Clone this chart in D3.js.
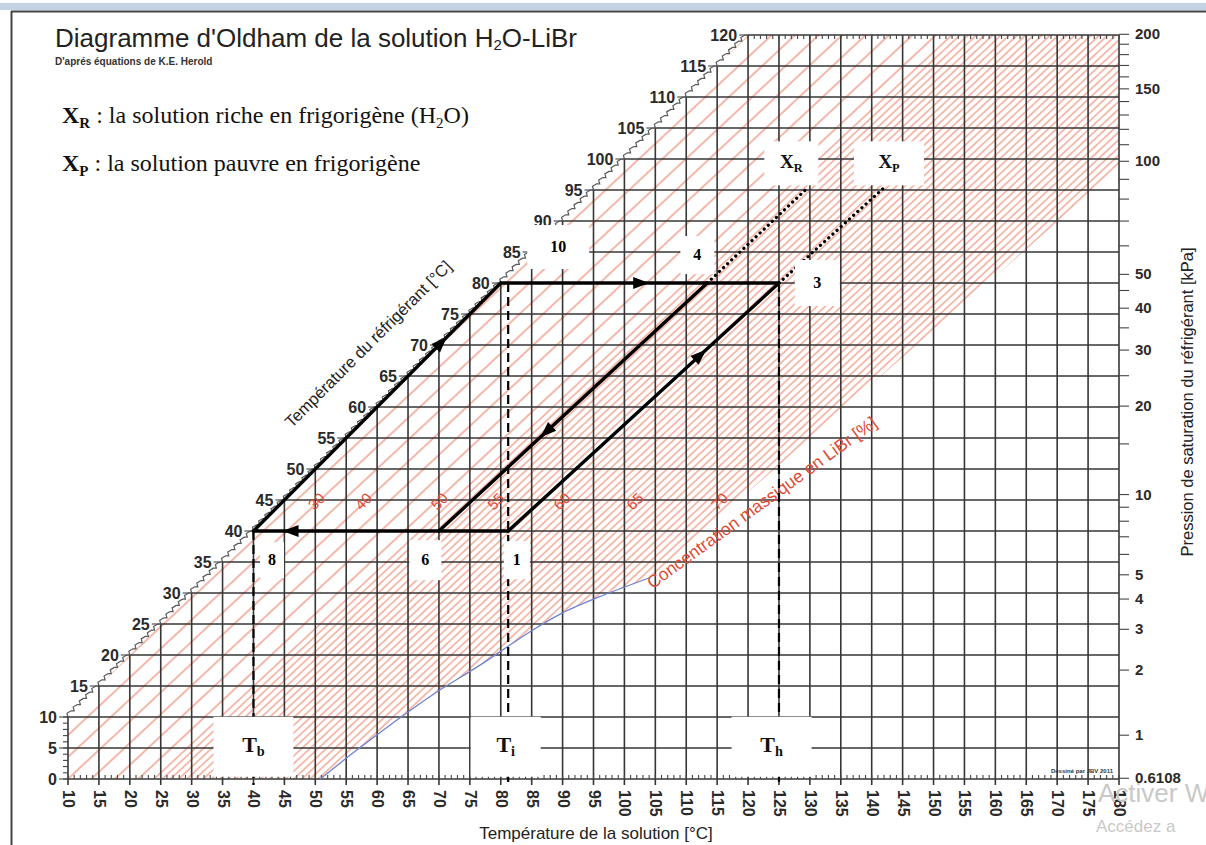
<!DOCTYPE html>
<html>
<head>
<meta charset="utf-8">
<script src="https://cdn.jsdelivr.net/npm/d3@7"></script>
<style>
body { margin: 0; background: #fff; }
svg { display: block; font-family: "Liberation Sans", Arial, sans-serif; }
</style>
</head>
<body>
<div id="chart"></div>
<script>
// chart data
var solTicks = d3.range(10, 181, 5);          // solution temperature [°C]
var refTicks = d3.range(0, 121, 5);           // refrigerant temperature [°C]
var pressMajor = [200, 150, 100, 50, 40, 30, 20, 10, 5, 4, 3, 2, 1, 0.6108];
var pressMinor = [190, 180, 170, 160, 140, 130, 120, 110, 90, 80, 70, 60, 45, 35, 25, 15, 9, 8, 7, 6];

var concLabels = ["30", "40", "50", "55", "60", "65", "70"];
var concLabelTsol = [50.8, 58.4, 70.7, 79.8, 90.5, 102.3, 116.0];
var concLabelTref = 45;

// crystallisation curve [Tsol, Tref]
var crystCurve = [[50.8, 0], [56.5, 4.5], [62.5, 9], [69, 13.6], [76.7, 18.4], [84.8, 23.8], [90, 26.8], [96.5, 29.6], [104.2, 32.5]];
// boundary between sparse and dense hatching, and the 70 % line
var conc50 = [[23.5, 0], [151.9, 120]];
var conc70 = [[104.2, 32.5], [180, 98.5]];

// cycle points [Tsol, Tref]
var cyclePoints = {
    "1": [81.2, 40],
    "3": [125, 80],
    "4": [113.4, 80],
    "6": [70, 40],
    "8": [40, 40],
    "10": [80, 80]
};
var cycleSegments = [
    {from: "8", to: "10", arrow: 0.76},
    {from: "10", to: "4", arrow: 0.68},
    {from: "4", to: "3", arrow: null},
    {from: "4", to: "6", arrow: 0.6},
    {from: "6", to: "8", arrow: 0.8},
    {from: "1", to: "6", arrow: null},
    {from: "1", to: "3", arrow: 0.71}
];
var dottedExt = [
    [[113.4, 80], [129.8, 95.5]],
    [[125, 80], [141.9, 95.3]]
];
var dashedVert = [[40, 40], [81.2, 80], [125, 80]];

// white annotation boxes: text, Tsol, Tref, box w, box h
var pointLabels = [
    {t: "10", s: 89.3, r: 85.8, w: 62, h: 44},
    {t: "4", s: 111.8, r: 84.5, w: 34, h: 38},
    {t: "3", s: 131.2, r: 80, w: 45, h: 46},
    {t: "8", s: 43.0, r: 35.3, w: 24, h: 36},
    {t: "6", s: 67.8, r: 35.3, w: 32, h: 40},
    {t: "1", s: 82.6, r: 35.3, w: 26, h: 38}
];
var subLabels = [
    {t: "X", sub: "R", s: 127.0, r: 99.3, w: 54, h: 44, size: 19},
    {t: "X", sub: "P", s: 142.8, r: 99.3, w: 70, h: 44, size: 19},
    {t: "T", sub: "b", s: 40.0, r: 5.2, w: 80, h: 60, size: 22},
    {t: "T", sub: "i", s: 80.8, r: 5.2, w: 70, h: 60, size: 22},
    {t: "T", sub: "h", s: 123.8, r: 5.2, w: 80, h: 60, size: 22}
];

var svgWidth = 1206;
var svgHeight = 845;

var svg = d3.select("#chart")
    .append("svg")
    .attr("width", svgWidth)
    .attr("height", svgHeight);

var x = d3.scaleLinear().domain([10, 180]).range([68, 1119]);
var y = d3.scaleLinear().domain([0, 120]).range([779, 35]);

// saturation temperature of water from pressure in kPa (Antoine), used for the right axis
function tsat(p) {
    return 1730.63 / (7.19621 - Math.log10(p)) - 233.426;
}
var pY = p => y(Math.max(0, tsat(p)));

// window frame
svg.append("rect").attr("x", 0).attr("y", 3).attr("width", svgWidth).attr("height", 7).attr("fill", "#c4d2e5");
svg.append("line").attr("x1", 11).attr("x2", svgWidth).attr("y1", 11.5).attr("y2", 11.5).attr("stroke", "#444").attr("stroke-width", 2);
svg.append("line").attr("x1", 11.5).attr("x2", 11.5).attr("y1", 11).attr("y2", svgHeight).attr("stroke", "#444").attr("stroke-width", 2);

// hatch patterns
var defs = svg.append("defs");
function hatch(id, spacing, width) {
    var p = defs.append("pattern")
        .attr("id", id)
        .attr("patternUnits", "userSpaceOnUse")
        .attr("width", spacing)
        .attr("height", 20)
        .attr("patternTransform", "rotate(47)");
    p.append("line")
        .attr("x1", spacing / 2).attr("x2", spacing / 2)
        .attr("y1", 0).attr("y2", 20)
        .attr("stroke", "#ec7c62")
        .attr("stroke-width", width);
}
hatch("hatchSparse", 16, 1.1);
hatch("hatchDense", 5.6, 1);

var curveLine = d3.line().x(d => x(d[0])).y(d => y(d[1])).curve(d3.curveCatmullRom);
var toPx = d => x(d[0]) + "," + y(d[1]);

var sparsePoly = [[10, 0], [10, 10], [120, 120], conc50[1], conc50[0]];
svg.append("path")
    .attr("d", "M" + sparsePoly.map(toPx).join("L") + "Z")
    .attr("fill", "url(#hatchSparse)");

var densePoly = [conc50[0], conc50[1], [180, 120], conc70[1], conc70[0]];
var crystBack = crystCurve.slice().reverse();
svg.append("path")
    .attr("d", "M" + densePoly.map(toPx).join("L") + curveLine(crystBack).replace("M", "L") + "Z")
    .attr("fill", "url(#hatchDense)");

// grid
var grid = svg.append("g").attr("stroke", "#363636").attr("stroke-width", 1.6);
grid.selectAll(".v").data(solTicks).enter().append("line")
    .attr("x1", d => x(d)).attr("x2", d => x(d))
    .attr("y1", y(0) + 6).attr("y2", d => y(Math.min(120, d)));
grid.selectAll(".h").data(refTicks).enter().append("line")
    .attr("x1", d => x(Math.max(10, d))).attr("x2", x(180))
    .attr("y1", d => y(d)).attr("y2", d => y(d));

// diagonal wavy edge (pure water), one step per degree
var stair = "M" + x(10) + "," + y(10);
for (var t = 10; t < 120; t++) {
    stair += "L" + (x(t) - 1) + "," + (y(t + 0.6)) + "L" + (x(t + 0.5)) + "," + y(t + 1) + "L" + x(t + 1) + "," + y(t + 1);
}
svg.append("path").attr("d", stair).attr("fill", "none").attr("stroke", "#5a5a5a").attr("stroke-width", 1.2);

var ticks = svg.append("g").attr("stroke", "#444").attr("stroke-width", 1.1);
// diagonal major ticks
ticks.selectAll(".dt").data(refTicks).enter().append("line")
    .attr("x1", d => x(Math.max(10, d)) - 9).attr("x2", d => x(Math.max(10, d)))
    .attr("y1", d => y(d)).attr("y2", d => y(d));
// left minor ticks 0..10
ticks.selectAll(".lt").data(d3.range(0, 11)).enter().append("line")
    .attr("x1", x(10) - 5).attr("x2", x(10))
    .attr("y1", d => y(d)).attr("y2", d => y(d));
// bottom minor ticks
ticks.selectAll(".bt").data(d3.range(10, 181)).enter().append("line")
    .attr("x1", d => x(d)).attr("x2", d => x(d))
    .attr("y1", y(0)).attr("y2", y(0) - 4);
// top minor ticks
ticks.selectAll(".tt").data(d3.range(120, 181)).enter().append("line")
    .attr("x1", d => x(d)).attr("x2", d => x(d))
    .attr("y1", y(120)).attr("y2", y(120) + 4);
// right pressure ticks
ticks.selectAll(".pt").data(pressMajor.concat(pressMinor)).enter().append("line")
    .attr("x1", x(180)).attr("x2", x(180) + 10)
    .attr("y1", d => pY(d)).attr("y2", d => pY(d));

// tick labels
var labels = svg.append("g").attr("fill", "#2a2a2a").attr("font-size", "16px");
labels.selectAll(".dl").data(refTicks).enter().append("text")
    .attr("x", d => x(Math.max(10, d)) - 11)
    .attr("y", d => y(d) + 6)
    .attr("text-anchor", "end")
    .attr("font-weight", "bold")
    .text(d => d);
labels.selectAll(".bl").data(solTicks).enter().append("text")
    .attr("transform", d => `translate(${x(d) - 5},${y(0) + 11}) rotate(90)`)
    .attr("font-weight", "bold")
    .text(d => d);
labels.selectAll(".pl").data(pressMajor).enter().append("text")
    .attr("x", x(180) + 16)
    .attr("y", d => pY(d) + 5)
    .attr("font-size", "15px")
    .attr("font-weight", "bold")
    .text(d => d);

// axis titles
svg.append("text")
    .attr("x", 596).attr("y", 839)
    .attr("text-anchor", "middle").attr("font-size", "17px").attr("fill", "#222")
    .text("Température de la solution [°C]");
svg.append("text")
    .attr("transform", `translate(1193,402) rotate(-90)`)
    .attr("text-anchor", "middle").attr("font-size", "16.5px").attr("fill", "#222")
    .text("Pression de saturation du réfrigérant [kPa]");
svg.append("text")
    .attr("transform", `translate(${x(59.2)},${y(69.5)}) rotate(-45)`)
    .attr("text-anchor", "middle").attr("font-size", "16.5px").attr("fill", "#222")
    .text("Température du réfrigérant [°C]");

// concentration labels
svg.selectAll(".cl").data(concLabels).enter().append("text")
    .attr("transform", (d, i) => `translate(${x(concLabelTsol[i])},${y(concLabelTref) + 5}) rotate(-45)`)
    .attr("text-anchor", "middle").attr("font-size", "15px").attr("fill", "#e04a35")
    .text(d => d);
svg.append("text")
    .attr("transform", `translate(${x(crystCurve[crystCurve.length - 1][0]) + 2},${y(crystCurve[crystCurve.length - 1][1]) + 12}) rotate(-36)`)
    .attr("font-size", "17.5px").attr("fill", "#e04a35")
    .text("Concentration massique en LiBr [%]");

// crystallisation curve
svg.append("path")
    .attr("d", curveLine(crystCurve))
    .attr("fill", "none").attr("stroke", "#7083cf").attr("stroke-width", 1.3);

// dashed verticals
svg.selectAll(".dv").data(dashedVert).enter().append("line")
    .attr("x1", d => x(d[0])).attr("x2", d => x(d[0]))
    .attr("y1", d => y(d[1])).attr("y2", y(0) + 6)
    .attr("stroke", "#000").attr("stroke-width", 2.2).attr("stroke-dasharray", "9,5");

// dotted extensions
svg.selectAll(".dot").data(dottedExt).enter().append("line")
    .attr("x1", d => x(d[0][0])).attr("y1", d => y(d[0][1]))
    .attr("x2", d => x(d[1][0])).attr("y2", d => y(d[1][1]))
    .attr("stroke", "#000").attr("stroke-width", 3.2)
    .attr("stroke-linecap", "round").attr("stroke-dasharray", "0.1,5.5");

// cycle
var cycle = svg.append("g");
cycleSegments.forEach(function(seg) {
    var a = cyclePoints[seg.from], b = cyclePoints[seg.to];
    cycle.append("line")
        .attr("x1", x(a[0])).attr("y1", y(a[1]))
        .attr("x2", x(b[0])).attr("y2", y(b[1]))
        .attr("stroke", "#000").attr("stroke-width", 3.4).attr("stroke-linecap", "round");
    if (seg.arrow !== null) {
        var x0 = x(a[0]), y0 = y(a[1]), x1 = x(b[0]), y1 = y(b[1]);
        var px = x0 + seg.arrow * (x1 - x0), py = y0 + seg.arrow * (y1 - y0);
        var ang = Math.atan2(y1 - y0, x1 - x0) * 180 / Math.PI;
        cycle.append("path")
            .attr("d", "M8,0L-8,-6L-8,6Z")
            .attr("transform", `translate(${px},${py}) rotate(${ang})`)
            .attr("fill", "#000");
    }
});

// white annotation boxes
var serif = '"Liberation Serif", "Times New Roman", serif';
var pl = svg.selectAll(".plab").data(pointLabels).enter().append("g")
    .attr("transform", d => `translate(${x(d.s)},${y(d.r)})`);
pl.append("rect")
    .attr("x", d => -d.w / 2).attr("y", d => -d.h / 2)
    .attr("width", d => d.w).attr("height", d => d.h)
    .attr("fill", "#fff");
pl.append("text")
    .attr("text-anchor", "middle").attr("y", 5)
    .attr("font-family", serif).attr("font-size", "16px").attr("font-weight", "bold")
    .text(d => d.t);

var sl = svg.selectAll(".slab").data(subLabels).enter().append("g")
    .attr("transform", d => `translate(${x(d.s)},${y(d.r)})`);
sl.append("rect")
    .attr("x", d => -d.w / 2).attr("y", d => -d.h / 2)
    .attr("width", d => d.w).attr("height", d => d.h)
    .attr("fill", "#fff");
var st = sl.append("text")
    .attr("text-anchor", "middle").attr("y", 5)
    .attr("font-family", serif).attr("font-weight", "bold").attr("fill", "#111");
st.append("tspan").attr("font-size", d => d.size + "px").text(d => d.t);
st.append("tspan").attr("font-size", d => (d.size * 0.65) + "px").attr("dy", 4).text(d => d.sub);

// title and legend
svg.append("text").attr("x", 55).attr("y", 47).attr("font-size", "26px").attr("fill", "#222")
    .call(t => {
        t.append("tspan").text("Diagramme d'Oldham de la solution H");
        t.append("tspan").attr("font-size", "15px").attr("dy", 3).text("2");
        t.append("tspan").attr("dy", -3).text("O-LiBr");
    });
svg.append("text").attr("x", 55).attr("y", 65).attr("font-size", "10px").attr("font-weight", "bold").attr("fill", "#333")
    .text("D'aprés équations de K.E. Herold");

var leg = [
    {sub: "R", txt: " : la solution riche en frigorigène (H", tail: true, yy: 123},
    {sub: "P", txt: " : la solution pauvre en frigorigène", tail: false, yy: 171}
];
leg.forEach(function(l) {
    var t = svg.append("text").attr("x", 62).attr("y", l.yy)
        .attr("font-family", serif).attr("font-size", "24px").attr("fill", "#111");
    t.append("tspan").attr("font-weight", "bold").text("X");
    t.append("tspan").attr("font-weight", "bold").attr("font-size", "15px").attr("dy", 5).text(l.sub);
    t.append("tspan").attr("dy", -5).text(l.txt);
    if (l.tail) {
        t.append("tspan").attr("font-size", "15px").attr("dy", 5).text("2");
        t.append("tspan").attr("dy", -5).text("O)");
    }
});

svg.append("text").attr("x", x(180) - 6).attr("y", y(0) - 6)
    .attr("text-anchor", "end").attr("font-size", "6px").attr("font-weight", "bold").attr("fill", "#333")
    .text("Dessiné par JBV 2011");

// watermark
svg.append("text").attr("x", 1098).attr("y", 802).attr("font-size", "26px").attr("fill", "#c9c9c9")
    .text("Activer W");
svg.append("text").attr("x", 1096).attr("y", 832).attr("font-size", "17px").attr("fill", "#c9c9c9")
    .text("Accédez a");
</script>
</body>
</html>
